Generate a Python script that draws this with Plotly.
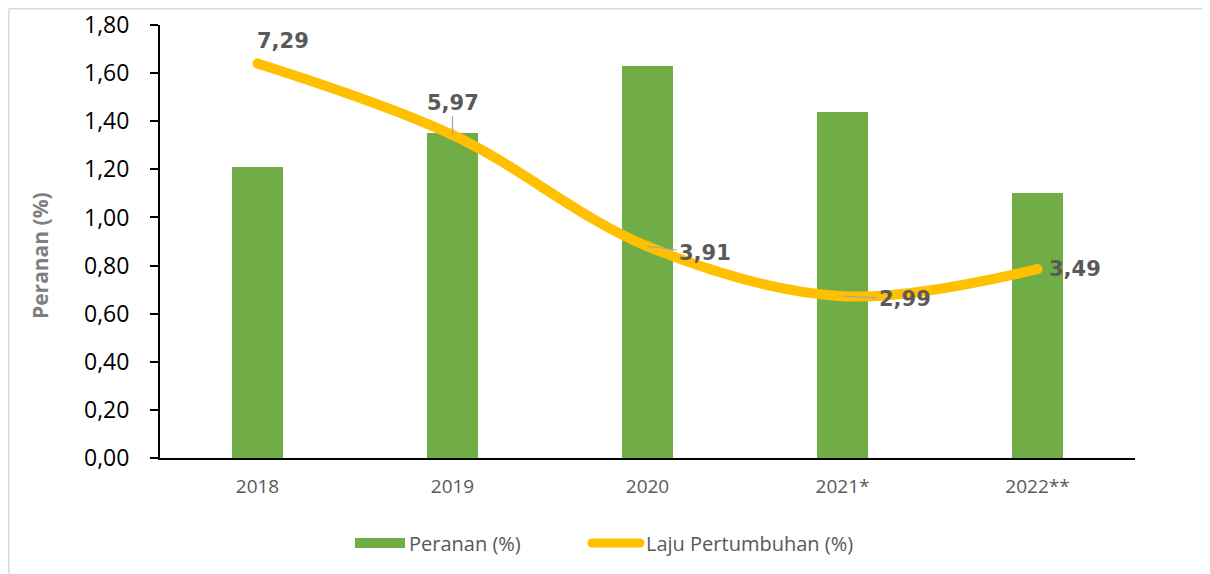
import plotly.graph_objects as go

years = ["2018", "2019", "2020", "2021*", "2022**"]
peranan = [1.21, 1.35, 1.63, 1.44, 1.10]
laju = [7.29, 5.97, 3.91, 2.99, 3.49]
laju_labels = ["7,29", "5,97", "3,91", "2,99", "3,49"]
y_ticks = [0, 0.2, 0.4, 0.6, 0.8, 1.0, 1.2, 1.4, 1.6, 1.8]

GREEN = "#70AD47"
YELLOW = "#FFC000"
GREY = "#595959"

# page renders the figure with an 8px body margin
OFF = 8
W, H = 1202, 566
L, R, T, B = 160 - OFF, W - (1135 - OFF), 25 - OFF, H - (458 - OFF)
PW, PH = W - L - R, H - T - B


def px2paper_x(px):
    return (px - OFF - L) / PW


def px2paper_y(py):
    return (H - B - (py - OFF)) / PH


fig = go.Figure()
fig.add_trace(go.Bar(x=years, y=peranan, marker=dict(color=GREEN, line=dict(width=0)),
                     width=0.26, name="Peranan (%)", showlegend=False))
fig.add_trace(go.Scatter(x=years, y=laju, yaxis="y2", mode="lines+markers",
                         line=dict(color=YELLOW, width=10, shape="spline", smoothing=1.0),
                         marker=dict(color=YELLOW, size=10, line=dict(width=0)),
                         name="Laju Pertumbuhan (%)", showlegend=False))

label_cfg = [
    dict(arrow=False, dx=25, dy=-22),
    dict(arrow=True, dx=0, dy=-32),
    dict(arrow=True, dx=57, dy=7),
    dict(arrow=True, dx=62, dy=3),
    dict(arrow=False, dx=37, dy=0),
]
label_font = dict(family="DejaVu Sans", size=21, color=GREY, weight="bold")
for i, (yv, txt, cfg) in enumerate(zip(laju, laju_labels, label_cfg)):
    if cfg["arrow"]:
        fig.add_annotation(x=i, y=yv, xref="x", yref="y2", text=txt, showarrow=True,
                           ax=cfg["dx"], ay=cfg["dy"], arrowhead=0, arrowwidth=1.2,
                           arrowcolor="#A6A6A6", standoff=0, font=label_font)
    else:
        fig.add_annotation(x=i, y=yv, xref="x", yref="y2", text=txt, showarrow=False,
                           xshift=cfg["dx"], yshift=-cfg["dy"], font=label_font)

# y-axis title
fig.add_annotation(xref="paper", yref="paper", x=px2paper_x(40), y=px2paper_y(256),
                   text="<b>Peranan (%)</b>", textangle=-90, showarrow=False,
                   xanchor="center", yanchor="middle",
                   font=dict(family="Open Sans", size=21, color="#7F7F7F"))

# manual legend
fig.add_shape(type="rect", xref="paper", yref="paper",
              x0=px2paper_x(355), x1=px2paper_x(405), y0=px2paper_y(548), y1=px2paper_y(538),
              fillcolor=GREEN, line=dict(width=0))
fig.add_annotation(xref="paper", yref="paper", x=px2paper_x(407), y=px2paper_y(543),
                   text="Peranan (%)", showarrow=False, xanchor="left", yanchor="middle",
                   font=dict(family="Open Sans", size=20, color=GREY))
fig.add_shape(type="line", xref="paper", yref="paper",
              x0=px2paper_x(592), x1=px2paper_x(640), y0=px2paper_y(543), y1=px2paper_y(543),
              line=dict(color=YELLOW, width=9))
fig.add_shape(type="circle", xref="paper", yref="paper",
              x0=px2paper_x(587.5), x1=px2paper_x(596.5), y0=px2paper_y(547.5), y1=px2paper_y(538.5),
              fillcolor=YELLOW, line=dict(width=0))
fig.add_shape(type="circle", xref="paper", yref="paper",
              x0=px2paper_x(635.5), x1=px2paper_x(644.5), y0=px2paper_y(547.5), y1=px2paper_y(538.5),
              fillcolor=YELLOW, line=dict(width=0))
fig.add_annotation(xref="paper", yref="paper", x=px2paper_x(644), y=px2paper_y(543),
                   text="Laju Pertumbuhan (%)", showarrow=False, xanchor="left", yanchor="middle",
                   font=dict(family="Open Sans", size=20, color=GREY))

# outer border: top and left edges
fig.add_shape(type="line", xref="paper", yref="paper", layer="below",
              x0=px2paper_x(8.8), x1=px2paper_x(1215), y0=px2paper_y(8.8), y1=px2paper_y(8.8),
              line=dict(color="#D9D9D9", width=1.5))
fig.add_shape(type="line", xref="paper", yref="paper", layer="below",
              x0=px2paper_x(8.8), x1=px2paper_x(8.8), y0=px2paper_y(8.8), y1=px2paper_y(580),
              line=dict(color="#D9D9D9", width=1.5))

fig.update_layout(
    width=W, height=H,
    margin=dict(l=L, r=R, t=T, b=B, autoexpand=False),
    paper_bgcolor="white", plot_bgcolor="white",
    separators=",.",
    bargap=0,
    showlegend=False,
    xaxis=dict(showline=True, linecolor="#000000", linewidth=2, ticks="",
               tickfont=dict(family="Open Sans", size=19, color=GREY),
               ticklabelstandoff=10,
               range=[-0.5, 4.5], showgrid=False, automargin=False),
    yaxis=dict(range=[0, 1.8], tickvals=y_ticks, tickformat=".2f",
               showline=True, linecolor="#000000", linewidth=2,
               ticks="outside", ticklen=8, tickcolor="#000000", tickwidth=1.5,
               ticklabelstandoff=16,
               tickfont=dict(family="Open Sans", size=23, color="#000000"),
               showgrid=False, zeroline=False, automargin=False),
    yaxis2=dict(range=[0, 8], overlaying="y", visible=False),
)

fig.write_html("out.html", config={"displayModeBar": False},
               post_script="document.documentElement.style.overflow='hidden';"
                           "document.body.style.overflow='hidden';")
